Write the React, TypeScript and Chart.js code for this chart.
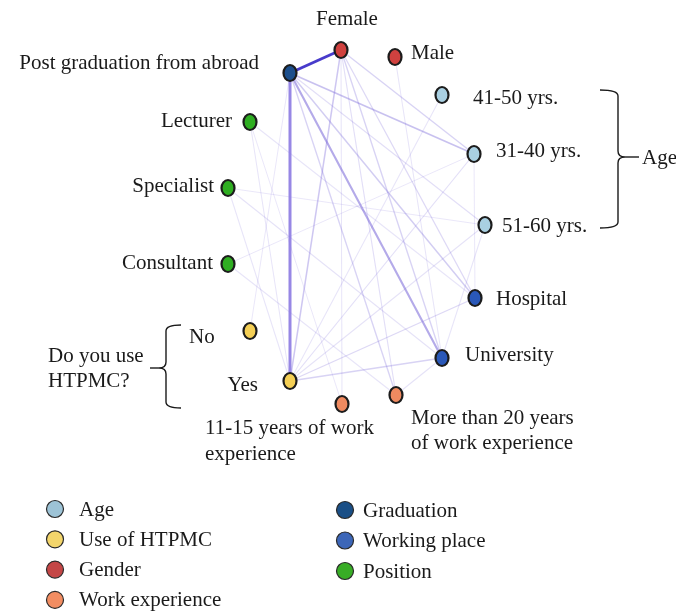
import React, { useEffect, useRef } from "react";
import { Chart, registerables } from "chart.js";

Chart.register(...registerables);

const W = 676;
const H = 614;
const FONT = "21px 'Liberation Serif', serif";

// Nodes
const nodeNames = [
  "Female", "Male", "41-50 yrs.", "31-40 yrs.", "51-60 yrs.", "Hospital", "University",
  "More than 20 years", "11-15 years", "Yes", "No", "Consultant", "Specialist", "Lecturer",
  "Post graduation from abroad",
];
const nodeX = [341, 395, 442, 474, 485, 475, 442, 396, 342, 290, 250, 228, 228, 250, 290];
const nodeY = [50, 57, 95, 154, 225, 298, 358, 395, 404, 381, 331, 264, 188, 122, 73];
const nodeGroup = [2, 2, 0, 0, 0, 5, 5, 3, 3, 1, 1, 6, 6, 6, 4];

// Groups
const groupNames = ["Age", "Use of HTPMC", "Gender", "Work experience", "Graduation", "Working place", "Position"];
const groupColors = ["#9dc3d6", "#f3d56b", "#c44646", "#f28d62", "#1a4f86", "#3c66b8", "#38ad26"];
const nodeFill = ["#a9d0e2", "#f4cf55", "#d0413f", "#ef8a60", "#1c4f8c", "#2a58b8", "#2fae22"];

// Edges (index into nodes) and strength 0..1
const edgeFrom = [14, 14, 14, 14, 14, 14, 14, 0, 0, 0, 0, 0, 9, 9, 9, 9, 9, 9, 12, 13, 11, 13, 10, 1, 8, 6, 4, 3, 11, 12, 2];
const edgeTo =   [0, 9, 6, 3, 5, 4, 7, 9, 3, 6, 5, 7, 6, 5, 3, 4, 13, 12, 6, 5, 7, 8, 14, 6, 0, 7, 6, 5, 3, 4, 9];
const edgeWeight = [1.0, 0.85, 0.6, 0.4, 0.3, 0.15, 0.25, 0.35, 0.25, 0.25, 0.2, 0.15, 0.25, 0.2, 0.15, 0.12, 0.1, 0.1, 0.12, 0.1, 0.1, 0.08, 0.08, 0.1, 0.1, 0.12, 0.1, 0.08, 0.08, 0.08, 0.1];

// Labels
const labelText = [
  "Female", "Male", "41-50 yrs.", "31-40 yrs.", "51-60 yrs.", "Hospital", "University",
  "More than 20 years", "of work experience", "11-15 years of work", "experience", "Yes", "No",
  "Consultant", "Specialist", "Lecturer", "Post graduation from abroad", "Do you use", "HTPMC?", "Age",
];
const labelX = [347, 411, 473, 496, 502, 496, 465, 411, 411, 205, 205, 258, 189, 213, 214, 232, 259, 48, 48, 642];
const labelY = [19, 53, 98, 151, 226, 299, 355, 418, 443, 428, 454, 385, 337, 263, 186, 121, 63, 356, 381, 158];
const labelAlign = ["center", "left", "left", "left", "left", "left", "left", "left", "left", "left", "left", "right", "left", "right", "right", "right", "right", "left", "left", "left"];

// Legend
const legendCol1 = [0, 1, 2, 3];
const legendCol2 = [4, 5, 6];

function edgeColor(w: number) {
  if (w >= 0.95) return "rgba(62,48,200,0.95)";
  if (w >= 0.8) return "rgba(140,122,226,0.9)";
  const a = 0.1 + 0.75 * w;
  return `rgba(118,100,215,${a.toFixed(3)})`;
}
function edgeWidth(w: number) {
  if (w >= 0.8) return 3;
  return 0.8 + 2.2 * w;
}

function makeNodeImage(color: string) {
  const c = document.createElement("canvas");
  c.width = 18;
  c.height = 22;
  const g = c.getContext("2d")!;
  g.beginPath();
  g.ellipse(9, 11, 6.5, 8, 0, 0, Math.PI * 2);
  g.fillStyle = color;
  g.fill();
  g.lineWidth = 2.2;
  g.strokeStyle = "#1c1c1c";
  g.stroke();
  return c;
}

const overlayPlugin = {
  id: "overlay",
  afterDatasetsDraw(chart: any) {
    const ctx = chart.ctx as CanvasRenderingContext2D;
    const xs = chart.scales.x;
    const ys = chart.scales.y;
    ctx.save();
    ctx.fillStyle = "#1a1a1a";
    ctx.font = FONT;
    ctx.textBaseline = "middle";
    labelText.forEach((t, i) => {
      ctx.textAlign = labelAlign[i] as CanvasTextAlign;
      ctx.fillText(t, xs.getPixelForValue(labelX[i]), ys.getPixelForValue(labelY[i]));
    });
    // Brackets
    ctx.strokeStyle = "#1a1a1a";
    ctx.lineWidth = 1.4;
    const P = (x: number, y: number) => [xs.getPixelForValue(x), ys.getPixelForValue(y)];
    const brace = (x0: number, xv: number, tip: number, y0: number, ym: number, y1: number, ext: number) => {
      ctx.beginPath();
      let p = P(x0, y0); ctx.moveTo(p[0], p[1]);
      let c = P(xv, y0); p = P(xv, y0 + 6); ctx.quadraticCurveTo(c[0], c[1], p[0], p[1]);
      p = P(xv, ym - 6); ctx.lineTo(p[0], p[1]);
      c = P(xv, ym); p = P(tip, ym); ctx.quadraticCurveTo(c[0], c[1], p[0], p[1]);
      c = P(xv, ym); p = P(xv, ym + 6); ctx.quadraticCurveTo(c[0], c[1], p[0], p[1]);
      p = P(xv, y1 - 6); ctx.lineTo(p[0], p[1]);
      c = P(xv, y1); p = P(x0, y1); ctx.quadraticCurveTo(c[0], c[1], p[0], p[1]);
      ctx.stroke();
      ctx.beginPath();
      p = P(tip, ym); ctx.moveTo(p[0], p[1]);
      p = P(ext, ym); ctx.lineTo(p[0], p[1]);
      ctx.stroke();
    };
    brace(600, 618, 625, 90, 157, 228, 639);
    brace(181, 166, 159, 325, 368, 408, 150);
    // Legend
    const drawItem = (g: number, x: number, y: number, tx: number) => {
      ctx.beginPath();
      ctx.arc(x, y, 8.5, 0, Math.PI * 2);
      ctx.fillStyle = groupColors[g];
      ctx.fill();
      ctx.lineWidth = 1.2;
      ctx.strokeStyle = "#2a2a2a";
      ctx.stroke();
      ctx.fillStyle = "#1a1a1a";
      ctx.textAlign = "left";
      ctx.fillText(groupNames[g], tx, y + 1);
    };
    legendCol1.forEach((g, i) => drawItem(g, 55, 509 + i * 30.3, 79));
    legendCol2.forEach((g, i) => drawItem(g, 345, 510 + i * 30.5, 363));
    ctx.restore();
  },
};

export default function App() {
  const ref = useRef<HTMLCanvasElement>(null);
  useEffect(() => {
    if (!ref.current) return;
    const images = nodeFill.map((c) => makeNodeImage(c));
    // strongest edges first so they are drawn on top (first dataset is drawn last)
    const order = edgeWeight.map((w, i) => i).sort((a, b) => edgeWeight[b] - edgeWeight[a]);
    const edgeSets = order.map((i) => ({
      type: "line" as const,
      data: [
        { x: nodeX[edgeFrom[i]], y: nodeY[edgeFrom[i]] },
        { x: nodeX[edgeTo[i]], y: nodeY[edgeTo[i]] },
      ],
      borderColor: edgeColor(edgeWeight[i]),
      borderWidth: edgeWidth(edgeWeight[i]),
      pointRadius: 0,
      showLine: true,
      fill: false,
    }));
    const nodeSet = {
      type: "scatter" as const,
      data: nodeX.map((x, i) => ({ x, y: nodeY[i] })),
      pointStyle: nodeGroup.map((g) => images[g]),
      pointRadius: 8,
    };
    const chart = new Chart(ref.current, {
      type: "scatter",
      data: { datasets: [nodeSet, ...edgeSets] as any },
      options: {
        animation: false,
        responsive: false,
        maintainAspectRatio: false,
        layout: { padding: 0, autoPadding: false } as any,
        plugins: { legend: { display: false }, tooltip: { enabled: false } },
        scales: {
          x: { type: "linear", min: 0, max: W, display: false },
          y: { type: "linear", min: 0, max: H, reverse: true, display: false },
        },
      },
      plugins: [overlayPlugin],
    });
    return () => chart.destroy();
  }, []);
  return (
    <div style={{ position: "absolute", left: 0, top: 0, width: W, height: H, background: "#fff" }}>
      <canvas ref={ref} width={W} height={H} style={{ display: "block" }} />
    </div>
  );
}
